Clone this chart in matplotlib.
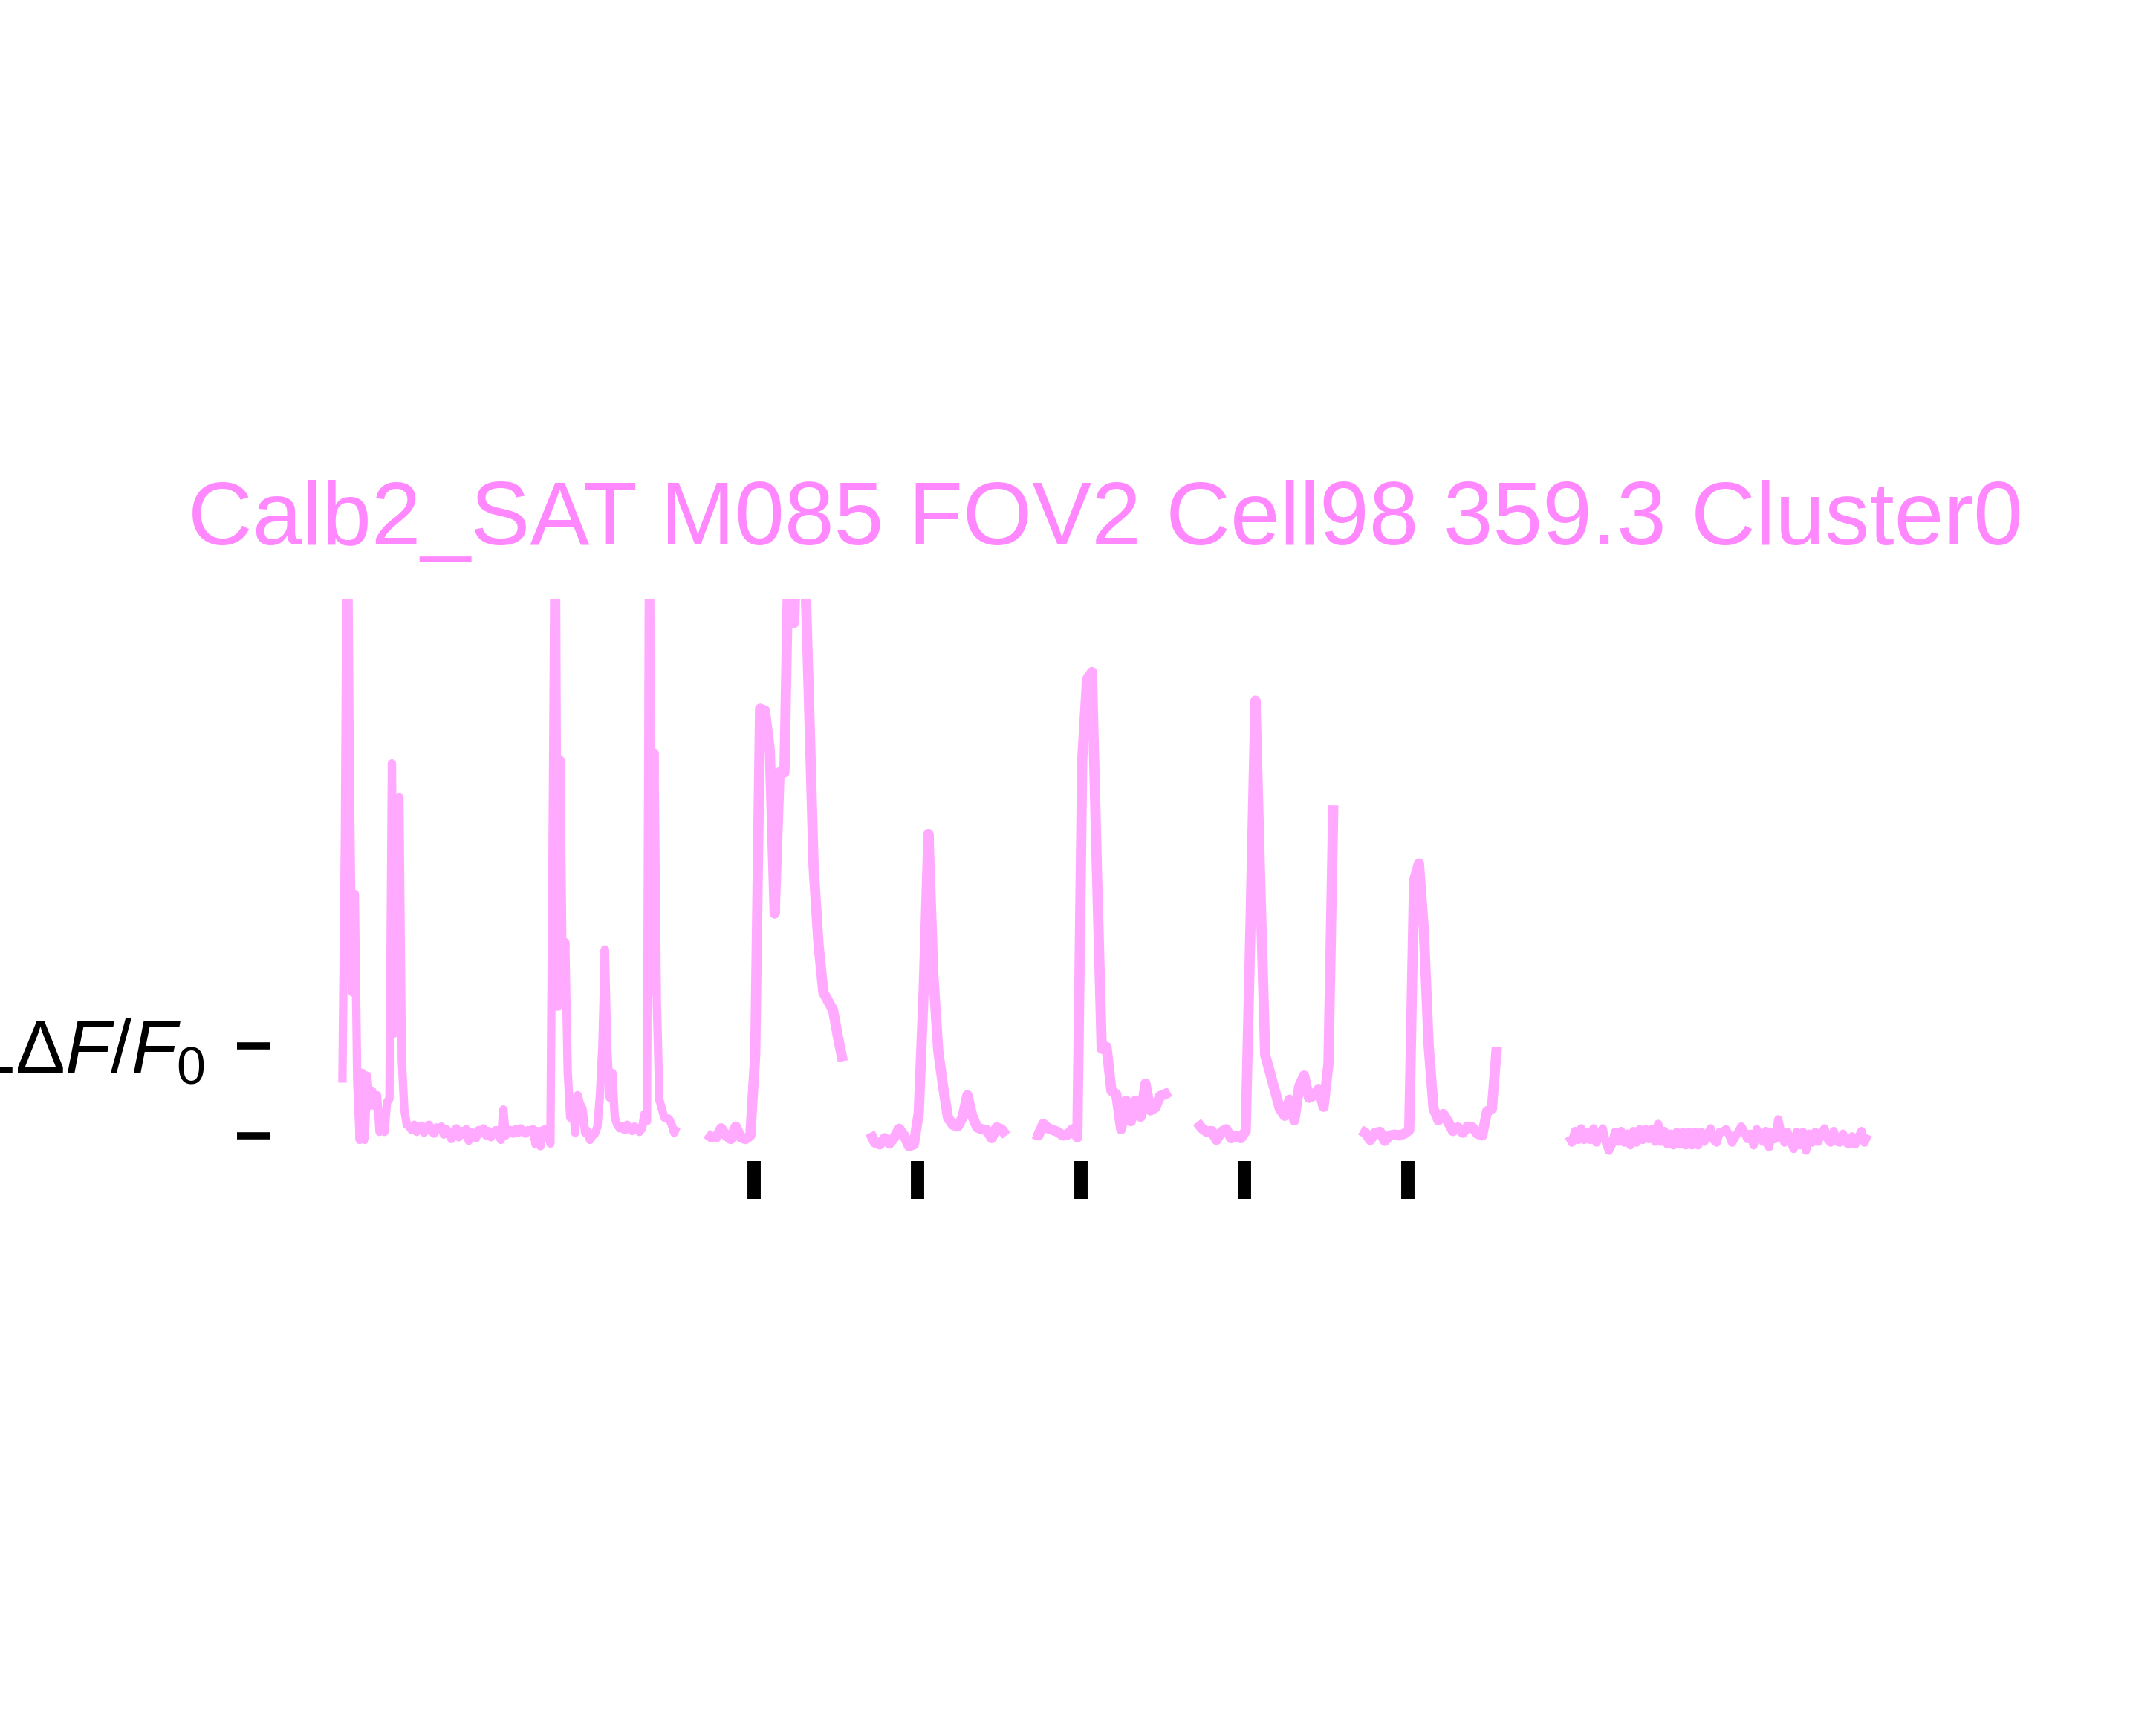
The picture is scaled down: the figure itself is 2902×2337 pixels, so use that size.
import numpy as np
import matplotlib
matplotlib.use('Agg')
import matplotlib.pyplot as plt

plt.rcParams['font.family'] = ['Liberation Sans', 'DejaVu Sans']
plt.rcParams['mathtext.fontset'] = 'custom'
plt.rcParams['mathtext.rm'] = 'Liberation Sans'
plt.rcParams['mathtext.it'] = 'Liberation Sans:italic'

title = 'Calb2_SAT M085 FOV2 Cell98 359.3 Cluster0'

# spontaneous activity before the stimulus block (dF/F0)
spont_pre = [
    0.59, 3.30, 8.00, 3.95, 1.60, 2.70, 0.59, -0.05, 0.70, -0.05,
    0.67, 0.33, 0.50, 0.33, 0.45, 0.04, 0.22, 0.04, 0.37, 0.41,
    4.16, 1.14, 1.20, 3.78, 0.84, 0.29, 0.12,
    0.10, 0.06, 0.12, 0.04, 0.09, 0.11, 0.03, 0.08, 0.12, 0.05,
    0.02, 0.09, 0.06, 0.10, 0.01, 0.07, 0.04, -0.04, 0.03, 0.08,
    -0.02, 0.05, 0.01, 0.07, -0.06, 0.04, 0.02, -0.03, 0.06, 0.03,
    0.08, 0.00, 0.05, -0.02, 0.04, 0.06, 0.01, -0.05, 0.29, 0.00,
    0.04, 0.06, 0.02, 0.07, 0.03, 0.08, 0.05, 0.02, 0.06, 0.04,
    0.07, -0.10, 0.05, -0.12, 0.06, 0.07, 0.03,
    -0.09, 3.73, 8.00, 1.44, 4.20, 1.60, 2.16, 0.71, 0.20, 0.40,
    0.03, 0.45, 0.35, 0.30, 0.03, 0.05, -0.05, 0.00, 0.02, 0.10,
    0.45, 1.00, 2.08, 0.95, 0.42, 0.70, 0.20, 0.12, 0.08, 0.10,
    0.06, 0.12, 0.07, 0.05, 0.10, 0.08, 0.04, 0.08, 0.24, 0.16,
    8.00, 1.60, 4.28, 1.48, 0.40, 0.30, 0.20, 0.20, 0.18, 0.12,
    0.03, 0.10,
]

# five stimulus trials
trial1 = [0.02, -0.02, -0.02, 0.08, 0.00, -0.04, 0.10, -0.02, -0.04, 0.00,
          0.90, 4.77, 4.75, 4.30, 2.48, 4.06, 4.06, 7.00, 5.73, 7.50,
          6.80, 4.95, 3.00, 2.14, 1.60, 1.50, 1.40, 1.10, 0.83]
trial2 = [0.03, -0.08, -0.10, -0.03, -0.09, -0.02, 0.075, 0.00, -0.12, -0.10,
          0.25, 1.60, 3.37, 1.80, 0.95, 0.55, 0.20, 0.12, 0.10, 0.20,
          0.45, 0.22, 0.09, 0.07, 0.06, -0.03, 0.09, 0.07, 0.00]
trial3 = [0.02, 0.00, 0.13, 0.08, 0.06, 0.04, 0.00, 0.01, 0.07, -0.02,
          4.20, 5.10, 5.18, 3.00, 0.97, 0.99, 0.50, 0.46, 0.07, 0.39,
          0.16, 0.39, 0.21, 0.58, 0.28, 0.31, 0.44, 0.46, 0.49]
trial4 = [0.15, 0.08, 0.04, 0.05, -0.05, 0.04, 0.07, -0.03, 0.00, -0.03,
          0.05, 2.40, 4.86, 2.80, 0.90, 0.70, 0.50, 0.30, 0.22, 0.40,
          0.17, 0.55, 0.67, 0.42, 0.45, 0.52, 0.32, 0.80, 3.69]
trial5 = [0.06, 0.03, -0.05, 0.03, 0.04, -0.06, 0.00, 0.01, 0.00, 0.02,
          0.06, 2.85, 3.04, 2.30, 1.00, 0.30, 0.17, 0.24, 0.15, 0.05,
          0.09, 0.03, 0.10, 0.09, 0.02, 0.00, 0.27, 0.30, 0.99]
trials = [trial1, trial2, trial3, trial4, trial5]

# spontaneous activity after the stimulus block
spont_post = [
    -0.01, -0.08, 0.05, -0.05, 0.08, -0.05, 0.04, -0.05, 0.08, -0.08,
    0.01, 0.08, -0.08, -0.17, -0.10, 0.04, -0.07, 0.05, -0.08, 0.02,
    -0.11, 0.05, -0.08, 0.07, -0.05, 0.07, -0.04, 0.07, -0.07, 0.13,
    -0.07, 0.05, -0.10, 0.02, -0.11, 0.04, -0.10, 0.04, -0.11, 0.04,
    -0.11, 0.04, -0.11, 0.04, -0.07, 0.01, 0.08, -0.05, -0.08, 0.04,
    0.04, 0.07, 0.01, -0.08, -0.02, 0.04, 0.10, 0.04, -0.04, 0.02,
    -0.11, 0.07, -0.01, -0.07, 0.05, -0.13, 0.04, -0.04, 0.18, 0.02,
    -0.08, 0.04, -0.07, -0.15, 0.04, -0.11, 0.04, -0.17, 0.02, -0.08,
    0.04, -0.07, 0.02, 0.08, -0.04, -0.08, 0.05, -0.07, -0.08, 0.02,
    -0.08, -0.10, -0.01, -0.10, -0.02, 0.05, -0.08, 0.01,
]

# frame layout
pre_span = (14.96, 83.66)
post_span = (267.0, 328.4)
trial_start = 89.8
trial_period = 33.6
stim_frame = 9.7

title_color = '#ff88ff'
trace_color = '#ffaaff'

fig = plt.figure(figsize=(2903 / 300, 2337 / 300), dpi=300)
ax = fig.add_axes([0.125, 1 - 1649 / 2337, 0.775, 843 / 2337])

x_pre = np.linspace(pre_span[0], pre_span[1], len(spont_pre))
ax.plot(x_pre, spont_pre, color=trace_color, lw=2.7, solid_capstyle='butt')

for j, tr in enumerate(trials):
    t = trial_start + j * trial_period + np.arange(len(tr))
    ax.plot(t, tr, color=trace_color, lw=3.3, solid_capstyle='butt')

x_post = np.linspace(post_span[0], post_span[1], len(spont_post))
ax.plot(x_post, spont_post, color=trace_color, lw=2.7, solid_capstyle='butt')

stims = [trial_start + j * trial_period + stim_frame for j in range(len(trials))]
ax.vlines(stims, -0.71, -0.29, color='k', lw=4.3, capstyle='butt')

ax.set_xlim(0, 343.5)
ax.set_ylim(-1, 6)
for s in ax.spines.values():
    s.set_visible(False)
ax.set_xticks([])
ax.set_yticks([0, 1])
ax.set_yticklabels(['', r'1$\Delta F/F_0$'], fontsize=24)
ax.tick_params(axis='y', length=10.5, width=2.3, pad=10.5)

ax.set_title(title, color=title_color, fontsize=28.8, pad=17.5)

fig.savefig('out.png', dpi=300)
